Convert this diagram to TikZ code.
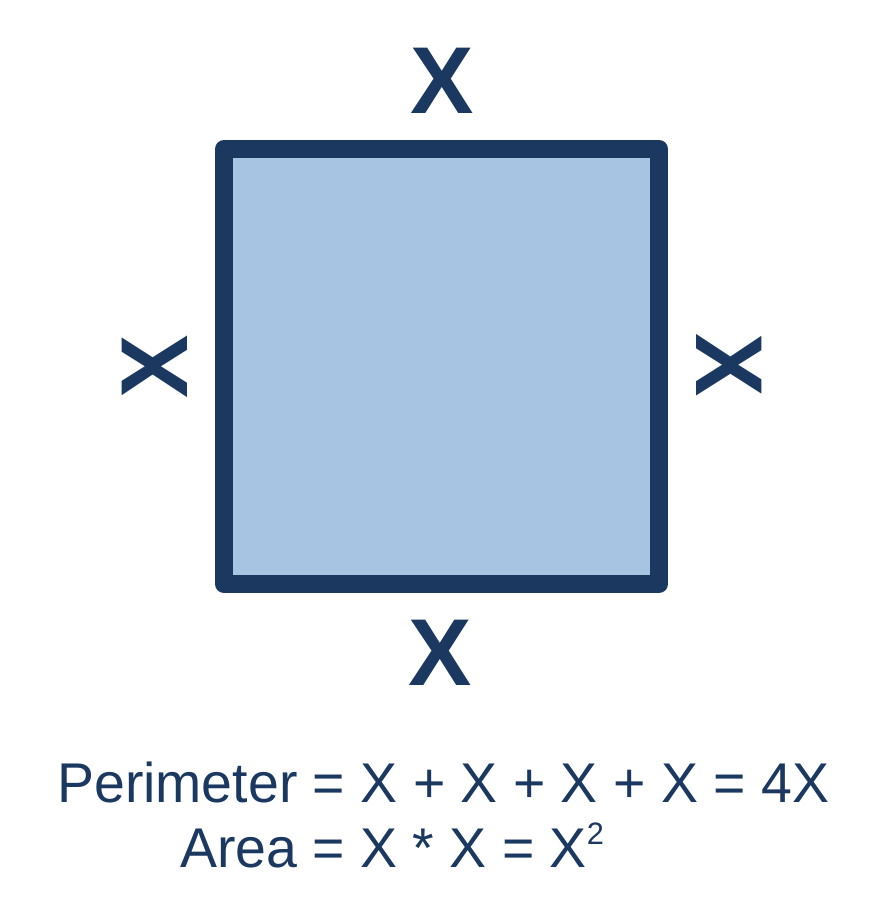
\documentclass[tikz,border=0pt]{standalone}
\usepackage{fontspec}
\setmainfont{Liberation Sans}
\newfontfamily\formfont[FakeStretch=0.99]{Liberation Sans}
\definecolor{navy}{HTML}{1A3860}
\definecolor{lightblue}{HTML}{A7C4E2}
\begin{document}
\begin{tikzpicture}[x=1pt,y=-1pt,
  side/.style={text=navy,inner sep=0pt,font=\fontsize{95}{95}\selectfont\bfseries},
  formula/.style={text=navy,inner sep=0pt,anchor=base west,font=\formfont\fontsize{56}{56}\selectfont},
  squarebox/.style={draw=navy,fill=lightblue,line width=18pt,line join=round,inner sep=0pt,
    minimum width=435pt,minimum height=435pt}]
\useasboundingbox (0,0) rectangle (886,924);
\node[squarebox] (sq) at (441.5,366.5) {};
\node[side] (top) at (442,81) {X};
\node[side] (bottom) at (440,652.5) {X};
\node[side,rotate=90] (left) at (155,367) {X};
\node[side,rotate=-90] (right) at (729,365) {X};
\node[formula] (perim) at (57,802) {Perimeter = X + X + X + X = 4X};
\node[formula] (area) at (180,867) {Area = X * X = X\raisebox{23pt}{\fontsize{31}{31}\selectfont 2}};
\end{tikzpicture}
\end{document}
